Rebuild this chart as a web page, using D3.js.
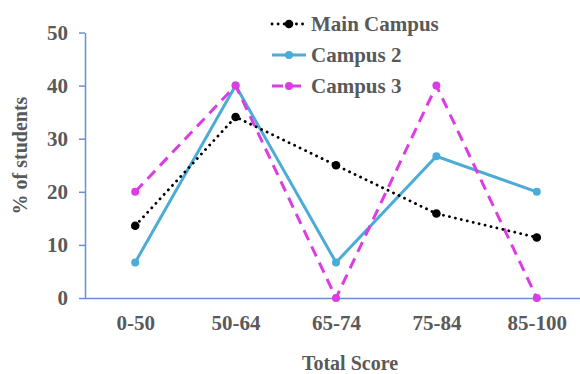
<!DOCTYPE html>
<html>
<head>
<meta charset="utf-8">
<script src="https://cdn.jsdelivr.net/npm/d3@7"></script>
<style>
  html, body { margin: 0; padding: 0; background: #fff; }
  svg { display: block; }
  text { font-family: "Liberation Serif", "Times New Roman", serif; font-weight: bold; fill: #595959; }
</style>
</head>
<body>
<svg id="chart" width="580" height="374"></svg>
<script>
// Score bands on the x axis
const categories = ["0-50", "50-64", "65-74", "75-84", "85-100"];
// Percentage of students per band, by campus
const mainCampus = [13.6, 34.1, 25.0, 15.9, 11.4];
const campus2 = [6.7, 40.0, 6.7, 26.7, 20.0];
const campus3 = [20, 40, 0, 40, 0];
const seriesNames = ["Main Campus", "Campus 2", "Campus 3"];
const yTicks = [0, 10, 20, 30, 40, 50];

(function () {
  const svg = d3.select("#chart");
  const plotLeft = 85, plotRight = 587, plotTop = 32.5, plotBottom = 298;
  const fontSize = 21;

  const x = d3.scalePoint().domain(categories).range([plotLeft, plotRight]).padding(0.5);
  const y = d3.scaleLinear().domain([0, 50]).range([plotBottom, plotTop]);

  const axisColor = "#6A8FD4";

  // Y axis
  const yAxis = svg.append("g")
    .attr("transform", `translate(${plotLeft},0)`)
    .call(d3.axisLeft(y).tickValues(yTicks).tickSize(6).tickPadding(11).tickSizeOuter(0));
  yAxis.select(".domain").attr("stroke", axisColor).attr("stroke-width", 1.5);
  yAxis.selectAll(".tick line").attr("stroke", axisColor).attr("stroke-width", 1.5);
  yAxis.selectAll(".tick text").attr("font-size", fontSize).style("fill", "#595959");

  // X axis
  const xAxis = svg.append("g")
    .attr("transform", `translate(0,${plotBottom})`)
    .call(d3.axisBottom(x).tickSize(0).tickPadding(17).tickSizeOuter(0));
  xAxis.select(".domain").attr("stroke", axisColor).attr("stroke-width", 1.5)
    .attr("d", `M${plotLeft},0.5H580`);
  xAxis.selectAll(".tick text").attr("font-size", fontSize).style("fill", "#595959");

  // Axis titles
  svg.append("text")
    .attr("transform", "translate(27,155.5) rotate(-90)")
    .attr("text-anchor", "middle")
    .attr("font-size", 20)
    .text("% of students");

  svg.append("text")
    .attr("x", 350).attr("y", 370)
    .attr("text-anchor", "middle")
    .attr("font-size", 20)
    .text("Total Score");

  // Series definitions
  const series = [
    { name: seriesNames[0], values: mainCampus, color: "#000000", width: 2.8, dash: "0.1 6", cap: "round", r: 4.3 },
    { name: seriesNames[1], values: campus2, color: "#4BACD6", width: 3, dash: null, cap: "butt", r: 4 },
    { name: seriesNames[2], values: campus3, color: "#DC3CE4", width: 3, dash: "11 7", cap: "butt", r: 4 }
  ];

  const line = d3.line()
    .x((d, i) => x(categories[i]))
    .y(d => y(d));

  // Draw in reverse so Main Campus sits on top
  [series[1], series[2], series[0]].forEach(s => {
    svg.append("path")
      .datum(s.values)
      .attr("fill", "none")
      .attr("stroke", s.color)
      .attr("stroke-width", s.width)
      .attr("stroke-linecap", s.cap)
      .attr("stroke-dasharray", s.dash)
      .attr("d", line);
    svg.selectAll(null)
      .data(s.values)
      .enter().append("circle")
      .attr("cx", (d, i) => x(categories[i]))
      .attr("cy", d => y(d))
      .attr("r", s.r)
      .attr("fill", s.color);
  });

  // Legend
  const legend = svg.append("g");
  series.forEach((s, i) => {
    const ly = 24 + i * 31;
    legend.append("line")
      .attr("x1", 272).attr("x2", 306)
      .attr("y1", ly).attr("y2", ly)
      .attr("stroke", s.color)
      .attr("stroke-width", s.width)
      .attr("stroke-linecap", s.cap)
      .attr("stroke-dasharray", s.dash);
    legend.append("circle")
      .attr("cx", 289).attr("cy", ly).attr("r", s.r).attr("fill", s.color);
    legend.append("text")
      .attr("x", 311).attr("y", ly + 7)
      .attr("font-size", fontSize)
      .text(s.name);
  });
})();
</script>
</body>
</html>
